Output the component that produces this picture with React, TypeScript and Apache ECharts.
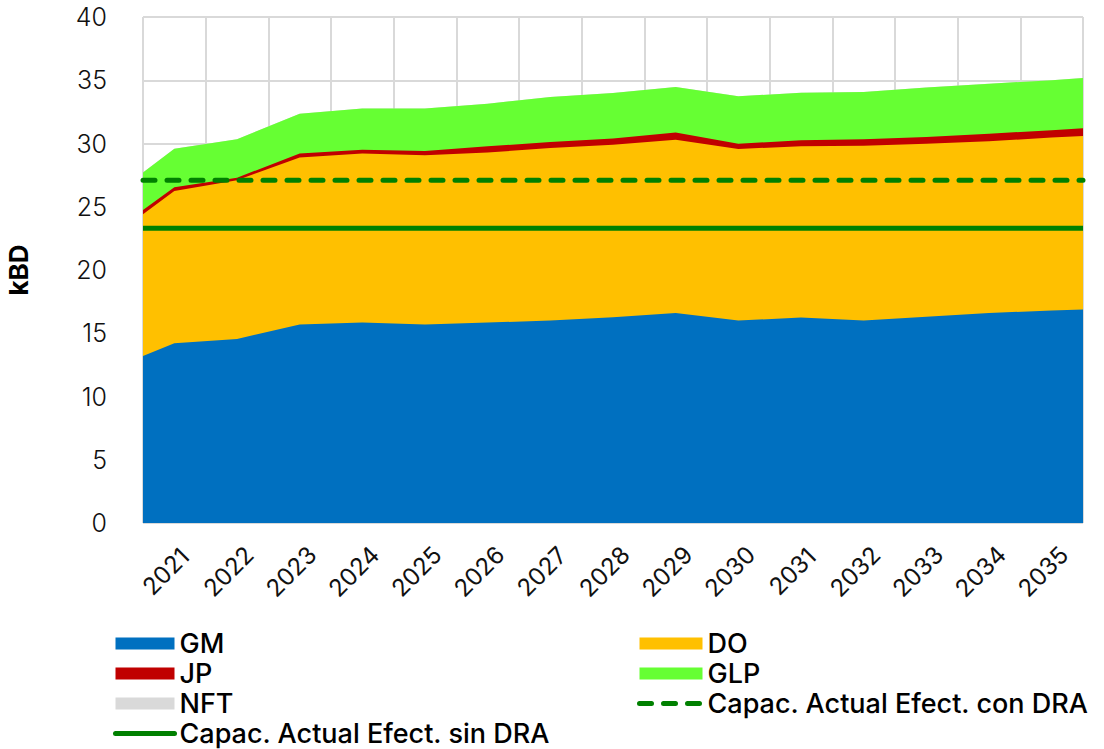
import React, { useEffect, useRef } from "react";
import * as echarts from "echarts";

// Categories (years)
const years = ["2021", "2022", "2023", "2024", "2025", "2026", "2027", "2028", "2029", "2030", "2031", "2032", "2033", "2034", "2035"];

// Series values per year (kBD)
const gmValues = [14.2, 14.55, 15.7, 15.85, 15.7, 15.85, 16.0, 16.26, 16.6, 16.0, 16.24, 16.0, 16.3, 16.6, 16.8];
const doValues = [12.05, 12.55, 13.2, 13.35, 13.37, 13.43, 13.65, 13.64, 13.7, 13.57, 13.54, 13.83, 13.69, 13.57, 13.67];
const jpValues = [0.3, 0.2, 0.3, 0.3, 0.33, 0.5, 0.47, 0.49, 0.56, 0.42, 0.47, 0.5, 0.52, 0.61, 0.57];
const glpValues = [3.04, 3.03, 3.16, 3.26, 3.36, 3.37, 3.56, 3.61, 3.61, 3.74, 3.77, 3.74, 3.91, 3.95, 3.96];
const nftValues = [0, 0, 0, 0, 0, 0, 0, 0, 0, 0, 0, 0, 0, 0, 0];

// Values where the areas meet the left / right edges of the plot
const gmEdges = [13.2, 16.87];
const doEdges = [11.2, 13.73];
const jpEdges = [0.35, 0.6];
const glpEdges = [2.95, 3.98];
const nftEdges = [0, 0];

// Capacity lines
const capConDRA = 27.1;
const capSinDRA = 23.3;

// Y axis ticks
const yMin = 0;
const yMax = 40;
const yInterval = 5;

const COLORS = {
  GM: "#0070C0",
  DO: "#FFC000",
  JP: "#C00000",
  GLP: "#66FF33",
  NFT: "#D9D9D9",
  CAP: "#008000",
};

const NAME_CON = "Capac. Actual Efect. con DRA";
const NAME_SIN = "Capac. Actual Efect. sin DRA";

function withEdges(values: number[], edges: number[]): number[] {
  return [edges[0], ...values, edges[1]];
}

export default function App() {
  const ref = useRef<HTMLDivElement>(null);

  useEffect(() => {
    if (!ref.current) return;
    const chart = echarts.init(ref.current, undefined, { renderer: "svg" });
    const n = years.length;
    // x positions on hidden value axis: edges at 0 and n, year i at band center
    const xs = [0, ...years.map((_, i) => i + 0.5), n];

    const layers = [
      withEdges(gmValues, gmEdges),
      withEdges(doValues, doEdges),
      withEdges(jpValues, jpEdges),
      withEdges(glpValues, glpEdges),
      withEdges(nftValues, nftEdges),
    ];
    // cumulative totals
    const cum: number[][] = [];
    layers.forEach((arr, li) => {
      cum.push(arr.map((v, i) => (li === 0 ? v : cum[li - 1][i] + v)));
    });
    const toPts = (arr: number[]) => arr.map((v, i) => [xs[i], +v.toFixed(3)]);

    const areaNames = ["GM", "DO", "JP", "GLP", "NFT"];
    const areaColors = [COLORS.GM, COLORS.DO, COLORS.JP, COLORS.GLP, COLORS.NFT];

    const areaSeries = [4, 3, 2, 1, 0].map((li) => ({
      name: areaNames[li],
      type: "line",
      xAxisIndex: 0,
      yAxisIndex: 0,
      data: toPts(cum[li]),
      symbol: "none",
      smooth: false,
      lineStyle: { width: 0, opacity: 0 },
      itemStyle: { color: areaColors[li] },
      areaStyle: { color: areaColors[li], opacity: 1, origin: "start" },
      silent: true,
    }));

    const legendText = {
      fontFamily: "Inter",
      fontSize: 27,
      lineHeight: 27,
      fontWeight: 500,
      color: "#000",
    };

    const solidLegendLine = { color: COLORS.CAP, width: 5, type: "solid", cap: "round" };
    const dashedLegendLine = { color: COLORS.CAP, width: 5, type: [12, 12], cap: "round" };

    const option: any = {
      animation: false,
      textStyle: { fontFamily: "Inter" },
      grid: {
        left: 143,
        right: 21,
        top: 17,
        bottom: 226,
        containLabel: false,
        outerBoundsMode: "none",
      },
      xAxis: [
        {
          type: "value",
          min: 0,
          max: n,
          show: false,
          splitLine: { show: false },
        },
        {
          type: "category",
          data: years,
          boundaryGap: true,
          position: "bottom",
          axisLine: { show: false },
          axisTick: { show: false },
          splitLine: { show: true, lineStyle: { color: "#d9d9d9", width: 2 } },
          axisLabel: {
            rotate: 45,
            align: "center",
            verticalAlign: "middle",
            padding: [0, 24, 0, 0],
            margin: 40,
            fontFamily: "Inter",
            fontSize: 24,
            fontWeight: 400,
            color: "#111",
            interval: 0,
          },
        },
      ],
      yAxis: {
        type: "value",
        min: yMin,
        max: yMax,
        interval: yInterval,
        name: "kBD",
        nameLocation: "middle",
        nameGap: 112,
        nameTextStyle: { fontFamily: "Inter", fontSize: 26, fontWeight: 700, color: "#000" },
        axisLine: { show: false },
        axisTick: { show: false },
        axisLabel: { margin: 36, fontFamily: "Inter", fontSize: 25, fontWeight: 300, color: "#111" },
        splitLine: { show: true, lineStyle: { color: "#d9d9d9", width: 2 } },
      },
      legend: [
        {
          left: 113,
          top: 630,
          height: 140,
          padding: 0,
          orient: "vertical",
          itemGap: 3,
          itemWidth: 59,
          itemHeight: 12,
          selectedMode: false,
          textStyle: legendText,
          data: [
            { name: "GM", icon: "rect" },
            { name: "JP", icon: "rect" },
            { name: "NFT", icon: "rect" },
            { name: NAME_SIN, itemStyle: { opacity: 0 }, lineStyle: solidLegendLine },
          ],
        },
        {
          left: 637,
          top: 630,
          height: 140,
          padding: 0,
          orient: "vertical",
          itemGap: 3,
          itemWidth: 63,
          itemHeight: 12,
          selectedMode: false,
          textStyle: legendText,
          data: [
            { name: "DO", icon: "rect" },
            { name: "GLP", icon: "rect" },
            { name: NAME_CON, itemStyle: { opacity: 0 }, lineStyle: dashedLegendLine },
          ],
        },
      ],
      series: [
        ...areaSeries,
        {
          name: NAME_SIN,
          type: "line",
          xAxisIndex: 0,
          data: [
            [0, capSinDRA],
            [n, capSinDRA],
          ],
          symbol: "none",
          lineStyle: { color: COLORS.CAP, width: 5 },
          itemStyle: { color: COLORS.CAP },
          silent: true,
        },
        {
          name: NAME_CON,
          type: "line",
          xAxisIndex: 0,
          data: [
            [0, capConDRA],
            [n, capConDRA],
          ],
          symbol: "none",
          lineStyle: { color: COLORS.CAP, width: 5, type: [12, 12], cap: "round" },
          itemStyle: { color: COLORS.CAP },
          silent: true,
        },
      ],
    };

    chart.setOption(option);
    return () => chart.dispose();
  }, []);

  return (
    <div
      ref={ref}
      style={{ position: "fixed", left: 0, top: 0, width: 1104, height: 749, background: "#fff" }}
    />
  );
}
